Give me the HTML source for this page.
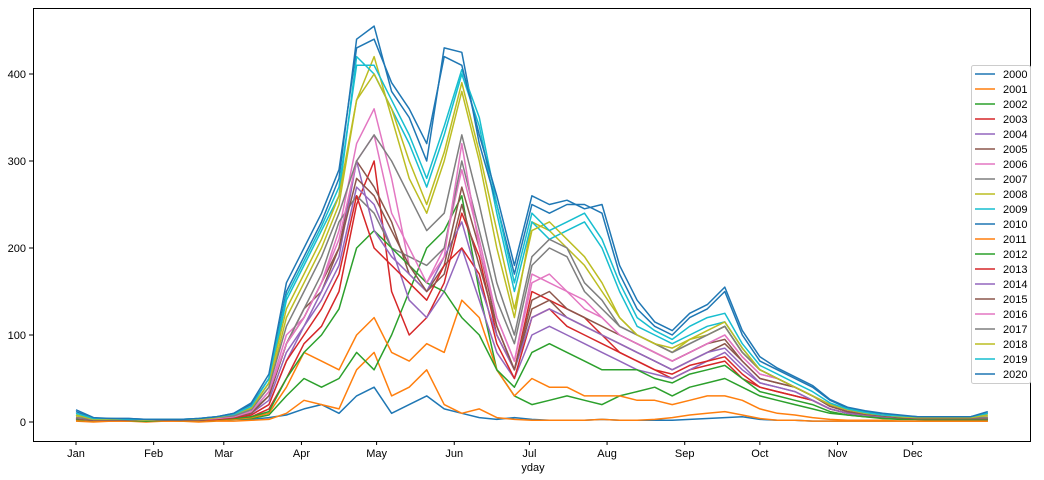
<!DOCTYPE html>
<html><head><meta charset="utf-8"><style>
body{margin:0;background:#fff;}
svg{display:block;font-family:"Liberation Sans","DejaVu Sans",sans-serif;}
</style></head><body>
<svg id="chart" width="1044" height="480" viewBox="0 0 1044 480" xmlns="http://www.w3.org/2000/svg"></svg>
<script>
const years=["2000","2001","2002","2003","2004","2005","2006","2007","2008","2009","2010","2011","2012","2013","2014","2015","2016","2017","2018","2019","2020"];
const monthLabels=["Jan","Feb","Mar","Apr","May","Jun","Jul","Aug","Sep","Oct","Nov","Dec"];
const monthStartDays=[1,32,60,91,121,152,182,213,244,274,305,335];
const yTicks=[0,100,200,300,400];
const s2000=[2,1,1,2,1,1,2,1,2,3,3,5,8,15,20,10,30,40,10,20,30,15,10,5,3,5,3,2,2,2,3,2,2,2,2,3,4,5,6,3,2,2,1,1,1,1,1,1,1,1,1,1,1];
const s2001=[1,0,1,1,0,1,1,0,1,1,2,3,10,25,20,15,60,80,30,40,60,20,10,15,5,3,2,2,2,2,3,2,2,3,5,8,10,12,8,4,2,2,1,1,1,1,1,1,1,1,1,1,1];
const s2002=[2,1,2,1,1,2,1,1,2,3,4,8,30,50,40,50,80,60,100,150,200,220,260,150,60,30,20,25,30,25,20,30,35,40,30,40,45,50,40,30,25,20,15,10,8,6,4,3,3,2,2,2,2];
const s2003=[3,2,2,2,1,2,2,2,3,4,6,15,50,90,110,150,250,300,150,100,120,160,240,190,100,60,150,140,130,120,100,80,70,60,50,60,65,70,50,40,35,30,25,15,10,8,6,4,3,3,3,3,3];
const s2004=[4,2,3,2,2,3,2,2,4,5,8,20,70,110,140,180,270,250,200,140,120,150,200,140,80,50,100,110,100,90,80,70,60,55,50,60,70,80,60,45,40,35,25,15,10,8,6,5,4,4,4,4,4];
const s2005=[3,2,2,2,2,2,2,2,3,5,10,30,90,130,150,200,300,270,230,170,150,180,270,200,110,60,130,140,120,110,100,90,80,70,60,70,80,90,70,50,45,40,30,18,12,9,7,5,4,4,4,4,4];
const s2006=[5,3,3,3,2,3,3,3,4,6,12,35,100,120,160,220,320,360,280,180,160,200,290,210,120,70,160,170,150,130,120,100,90,80,70,80,90,100,75,55,50,40,30,20,14,10,8,6,5,5,5,5,5];
const s2007=[4,2,3,2,2,3,2,3,4,6,12,30,90,130,170,230,260,240,200,190,180,200,300,220,140,90,180,200,190,150,130,110,100,90,80,90,100,110,80,60,50,40,30,20,14,10,8,6,5,5,5,5,5];
const s2008=[6,3,3,3,2,3,3,3,5,8,15,40,120,160,200,250,370,420,350,280,240,300,380,300,200,120,230,220,200,180,150,120,100,90,80,95,100,110,80,60,50,40,30,20,14,10,8,6,5,5,5,5,6];
const s2009=[8,3,3,3,2,3,3,3,5,8,16,45,140,180,220,260,420,400,360,320,270,330,400,340,240,150,230,210,220,230,200,150,110,100,90,100,110,115,85,60,50,40,30,20,14,10,8,6,5,5,5,5,8];
const s2010=[12,4,4,4,3,3,3,4,6,10,20,50,150,190,230,280,440,455,380,350,300,430,425,320,250,170,250,240,250,250,240,170,130,110,100,120,130,150,100,70,60,50,40,25,16,12,9,7,6,6,6,6,10];
const s2011=[2,1,1,1,1,1,1,1,2,3,5,10,40,80,70,60,100,120,80,70,90,80,140,120,60,30,50,40,40,30,30,30,25,25,20,25,30,30,25,15,10,8,5,3,2,2,2,1,1,1,1,1,1];
const s2012=[3,2,2,2,1,2,2,2,3,4,6,12,50,80,100,130,200,220,200,180,160,150,120,100,60,40,80,90,80,70,60,60,60,50,45,55,60,65,50,35,30,25,20,12,8,6,5,4,3,3,3,3,3];
const s2013=[4,2,2,2,2,2,2,2,3,5,8,20,70,100,130,170,260,200,180,160,140,180,200,170,90,50,120,130,110,100,90,80,70,60,55,65,70,75,55,40,35,30,25,15,10,8,6,5,4,4,4,4,4];
const s2014=[4,2,3,2,2,2,2,2,4,6,10,25,80,110,150,190,300,220,190,170,150,190,230,160,100,60,120,130,120,110,100,90,80,70,60,70,80,85,65,45,40,35,25,15,10,8,6,5,4,4,4,4,4];
const s2015=[4,2,2,2,2,2,2,2,4,6,10,30,90,120,160,200,280,260,220,180,150,170,250,180,110,60,140,150,130,120,110,100,90,80,70,80,90,95,70,50,45,40,30,18,12,9,7,5,4,4,4,4,4];
const s2016=[5,3,3,3,2,3,3,3,4,6,12,35,90,120,160,210,300,330,240,200,160,190,320,200,120,70,170,160,150,140,120,100,90,80,70,80,90,100,75,55,50,40,30,20,14,10,8,6,5,5,5,5,5];
const s2017=[5,3,3,3,2,3,3,3,5,7,14,40,110,150,190,240,300,330,300,260,220,240,330,250,160,100,190,210,200,160,140,110,100,90,80,90,100,110,80,60,50,40,30,20,14,10,8,6,5,5,5,5,5];
const s2018=[8,3,3,3,2,3,3,3,5,9,16,45,130,170,210,260,370,400,360,300,250,310,390,310,220,130,220,230,210,190,160,120,100,90,85,95,105,115,85,60,50,40,30,20,14,10,8,6,5,5,5,5,8];
const s2019=[10,4,4,3,3,3,3,4,6,9,18,50,145,185,225,270,410,410,370,330,280,340,405,350,250,160,240,220,230,240,210,160,120,105,95,110,120,125,90,65,55,45,35,22,15,11,8,7,6,6,6,6,10];
const s2020=[14,5,4,4,3,3,3,4,6,10,22,55,160,200,240,290,430,440,390,360,320,420,410,330,260,180,260,250,255,245,250,180,140,115,105,125,135,155,105,75,62,52,42,26,17,13,10,8,6,6,6,6,12];
const series=[s2000,s2001,s2002,s2003,s2004,s2005,s2006,s2007,s2008,s2009,s2010,s2011,s2012,s2013,s2014,s2015,s2016,s2017,s2018,s2019,s2020];
const palette=["#1f77b4","#ff7f0e","#2ca02c","#d62728","#9467bd","#8c564b","#e377c2","#7f7f7f","#bcbd22","#17becf"];

const NS="http://www.w3.org/2000/svg";
const svg=document.getElementById('chart');
function mk(tag,attrs,parent){const e=document.createElementNS(NS,tag);for(const k in attrs)e.setAttribute(k,attrs[k]);(parent||svg).appendChild(e);return e;}
const xScale=d=>76+(d-1)*2.505;
const yScale=v=>422-v*0.87;

// series
const g=mk('g',{});


series.forEach((arr,i)=>{
  const pts=arr.map((v,k)=>xScale(1+7*k).toFixed(1)+','+yScale(v).toFixed(1)).join(' ');
  const p=mk('polyline',{points:pts,fill:'none',stroke:palette[i%10],'stroke-width':1.5,'stroke-linejoin':'round'},g);
  
  
});

// frame
const fr=mk('rect',{x:33.5,y:8.5,width:997,height:433,fill:'none',stroke:'#000','stroke-width':1});



// y ticks
yTicks.forEach(t=>{
  const y=yScale(t);
  mk('line',{x1:29,x2:33,y1:y,y2:y,stroke:'#000'});
  const tx=mk('text',{x:26,y:y+4,'text-anchor':'end','font-size':11,fill:'#000'});
  tx.textContent=t;
  
  
});
// x ticks
monthLabels.forEach((m,i)=>{
  const x=xScale(monthStartDays[i]);
  mk('line',{x1:x,x2:x,y1:441,y2:445,stroke:'#000'});
  const tx=mk('text',{x:x,y:457,'text-anchor':'middle','font-size':11,fill:'#000'});
  tx.textContent=m;
  
  
});
const xl=mk('text',{x:533,y:471,'text-anchor':'middle','font-size':11,fill:'#000'});
xl.textContent='yday';



// legend
const lg=mk('g',{});


mk('rect',{x:971.5,y:65.5,width:59,height:318,rx:2,fill:'#fff','fill-opacity':0.8,stroke:'#ccc'},lg);
years.forEach((yr,i)=>{
  const y=74+i*15;
  const e=mk('g',{},lg);
  
  
  mk('line',{x1:975,x2:995,y1:y,y2:y,stroke:palette[i%10],'stroke-width':1.5},e);
  const t=mk('text',{x:1003,y:y+4,'font-size':11,fill:'#000'},e);
  t.textContent=yr;
});
</script>
</body></html>
